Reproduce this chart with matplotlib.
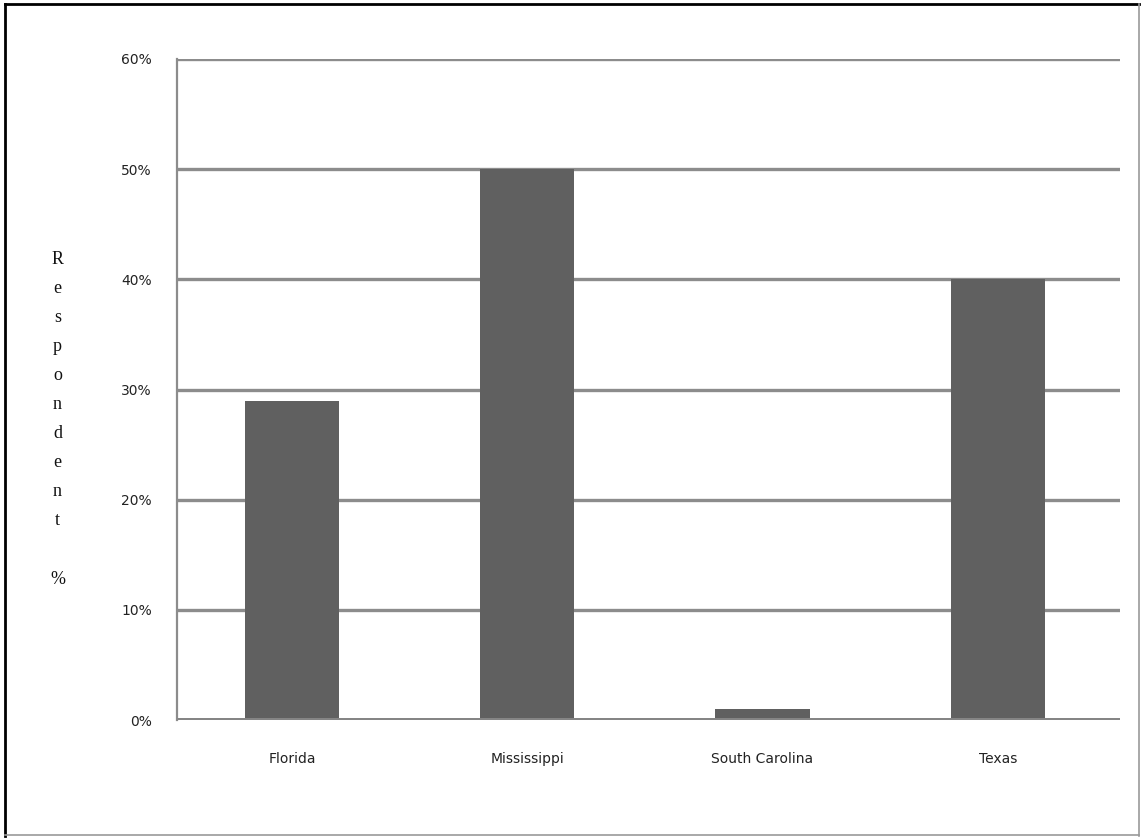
import matplotlib.pyplot as plt
from matplotlib.lines import Line2D

# Respondents by state (percent)
estados = ["Florida", "Mississippi", "South Carolina", "Texas"]
percentuais = [29, 50, 1, 40]
ticks_y = [0, 10, 20, 30, 40, 50, 60]

COR_BARRA = "#606060"
COR_GRADE = "#8c8c8c"

fig = plt.figure(figsize=(11.44, 8.38), dpi=100)
ax = fig.add_axes([0.1547, 0.1408, 0.8243, 0.7888])

x = range(len(estados))
ax.bar(x, percentuais, width=0.4, color=COR_BARRA, zorder=3)

ax.set_ylim(0, 60)
ax.set_xlim(-0.49, 3.52)
ax.set_yticks(ticks_y)
ax.set_yticklabels([f"{v}%" for v in ticks_y], fontsize=10, color="#222222")
ax.set_xticks(list(x))
ax.set_xticklabels(estados, fontsize=10, color="#222222")
ax.tick_params(axis="both", length=0)
ax.tick_params(axis="y", pad=18)
ax.tick_params(axis="x", pad=23)

# grade horizontal
for v in ticks_y:
    ax.axhline(v, color="#858585" if v == 0 else COR_GRADE, lw=3.6 if v == 0 else 2.4,
               zorder=2 if v else 4, solid_capstyle="butt")

for lado in ["top", "right", "bottom"]:
    ax.spines[lado].set_visible(False)
ax.spines["left"].set_color(COR_GRADE)
ax.spines["left"].set_linewidth(1.6)

# rotulo vertical, letra por letra
fig.text(0.0502, 0.7009, "R\ne\ns\np\no\nn\nd\ne\nn\nt\n\n%", ha="center", va="top",
         family="Liberation Serif", fontsize=13, linespacing=1.93, color="#111111")

# moldura
fig.add_artist(Line2D([0.004, 0.996], [0.995, 0.995], color="black", lw=2))
fig.add_artist(Line2D([0.0045, 0.0045], [0.002, 0.995], color="black", lw=2))
fig.add_artist(Line2D([0.9955, 0.9955], [0.002, 0.995], color="#999999", lw=1.2))
fig.add_artist(Line2D([0.004, 0.996], [0.003, 0.003], color="#999999", lw=1.2))

fig.savefig("out.png", dpi=100, facecolor="white")
